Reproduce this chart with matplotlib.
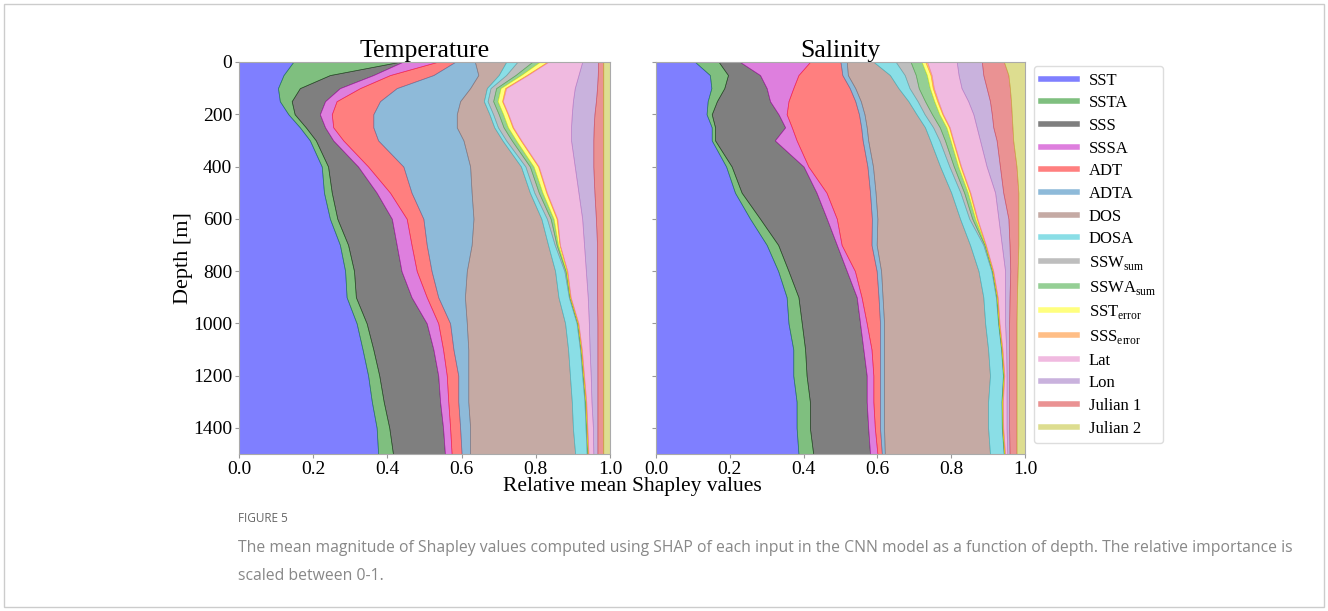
import numpy as np
import matplotlib
matplotlib.use("Agg")
import matplotlib.pyplot as plt
from matplotlib.lines import Line2D
from matplotlib.patches import Rectangle

plt.rcParams['font.family'] = ['Liberation Serif', 'DejaVu Serif']
plt.rcParams['mathtext.fontset'] = 'custom'
plt.rcParams['mathtext.rm'] = 'Liberation Serif'

# === data ===
depth = [0, 50, 100, 150, 200, 250, 300, 400, 500, 600, 700, 800, 900, 1000, 1100, 1200, 1300, 1400, 1500]

names = ['SST', 'SSTA', 'SSS', 'SSSA', 'ADT', 'ADTA', 'DOS', 'DOSA',
         r'SSW$_{\mathrm{sum}}$', r'SSWA$_{\mathrm{sum}}$', r'SST$_{\mathrm{error}}$',
         r'SSS$_{\mathrm{error}}$', 'Lat', 'Lon', 'Julian 1', 'Julian 2']

# Temperature model: relative mean |SHAP| per input
t_sst = [.146, .120, .105, .110, .133, .164, .191, .223, .229, .245, .272, .286, .290, .317, .333, .348, .358, .371, .375]
t_ssta = [.284, .125, .059, .032, .017, .016, .016, .017, .021, .020, .022, .024, .025, .027, .029, .030, .032, .034, .040]
t_sss = [.010, .117, .108, .090, .068, .052, .047, .081, .121, .147, .131, .128, .150, .162, .162, .159, .152, .145, .140]
t_sssa = [.093, .045, .054, .031, .032, .022, .027, .027, .036, .040, .040, .041, .041, .031, .026, .023, .022, .019, .018]
t_adt = [.049, .117, .099, .117, .112, .108, .094, .095, .058, .045, .041, .040, .031, .032, .028, .031, .027, .027, .027]
t_adta = [.054, .121, .198, .216, .225, .225, .230, .180, .162, .135, .121, .095, .072, .045, .040, .027, .027, .027, .023]
t_dos = [.084, .055, .045, .064, .088, .101, .105, .137, .157, .183, .206, .238, .252, .265, .269, .274, .279, .277, .283]
t_dosa = [.030, .020, .010, .010, .010, .010, .010, .012, .012, .015, .018, .025, .028, .031, .032, .033, .034, .034, .031]
t_ssw = [.040, .025, .015, .015, .015, .015, .015, .012, .012, .010, .005, .003, .002, .002, .002, .002, .002, .002, .002]
t_sswa = [.020, .015, .012, .012, .012, .012, .012, .010, .010, .008, .004, .002, .001, .001, .001, .001, .001, .001, .001]
t_sst_err = [.020, .015, .012, .012, .012, .012, .012, .012, .010, .008, .004, .002, .001, .001, .001, .001, .001, .001, .001]
t_sss_err = [.003, .003, .003, .002, .002, .002, .002, .002, .002, .002, .001, .001, .001, .001, .001, .001, .001, .001, .001]
t_lat = [.092, .137, .185, .189, .171, .156, .134, .097, .085, .067, .065, .050, .046, .028, .021, .018, .014, .015, .013]
t_lon = [.043, .052, .060, .062, .061, .061, .060, .050, .043, .037, .035, .030, .025, .023, .021, .018, .016, .012, .011]
t_jul1 = [.014, .015, .017, .020, .024, .026, .027, .027, .024, .020, .017, .017, .017, .016, .016, .016, .016, .016, .016]
t_jul2 = [.018, .018, .018, .018, .018, .018, .018, .018, .018, .018, .018, .018, .018, .018, .018, .018, .018, .018, .018]

# Salinity model
s_sst = [.106, .146, .150, .140, .137, .151, .151, .190, .214, .255, .300, .331, .354, .359, .372, .372, .381, .381, .386]
s_ssta = [.064, .049, .035, .025, .014, .009, .009, .015, .018, .027, .031, .028, .032, .036, .032, .036, .036, .036, .040]
s_sss = [.058, .087, .115, .144, .181, .190, .162, .195, .203, .181, .159, .158, .158, .158, .158, .163, .154, .158, .154]
s_sssa = [.189, .104, .072, .050, .022, .018, .059, .013, .027, .027, .013, .022, .013, .018, .022, .018, .018, .018, .020]
s_adt = [.083, .119, .153, .181, .196, .188, .179, .160, .118, .095, .081, .059, .046, .036, .023, .018, .018, .014, .012]
s_adta = [.017, .015, .015, .015, .015, .015, .015, .015, .015, .015, .014, .012, .011, .011, .011, .011, .011, .011, .008]
s_dos = [.073, .114, .117, .129, .141, .158, .168, .182, .205, .224, .253, .264, .273, .274, .282, .287, .282, .282, .285]
s_dosa = [.060, .040, .030, .025, .022, .022, .025, .025, .025, .025, .036, .035, .034, .035, .035, .035, .036, .037, .037]
s_ssw = [.040, .030, .025, .020, .020, .018, .015, .012, .010, .008, .003, .002, .002, .001, .001, .001, .001, .001, .001]
s_sswa = [.030, .030, .030, .025, .020, .018, .015, .012, .010, .008, .002, .001, .001, .001, .001, .001, .001, .001, .001]
s_sst_err = [.010, .010, .008, .008, .008, .007, .006, .006, .005, .004, .001, .001, .001, .001, .001, .001, .001, .001, .001]
s_sss_err = [.005, .003, .003, .003, .002, .002, .002, .002, .002, .002, .001, .001, .001, .001, .001, .001, .001, .001, .001]
s_lat = [.080, .073, .075, .081, .082, .073, .072, .069, .067, .057, .043, .032, .020, .015, .010, .006, .010, .009, .006]
s_lon = [.068, .067, .068, .059, .050, .045, .045, .036, .022, .027, .021, .014, .012, .011, .008, .007, .007, .007, .006]
s_jul1 = [.060, .068, .063, .057, .054, .052, .045, .045, .041, .027, .024, .020, .020, .020, .020, .020, .020, .020, .019]
s_jul2 = [.057, .045, .041, .038, .036, .034, .032, .023, .018, .018, .018, .020, .022, .023, .023, .023, .023, .023, .023]

colors = ['blue', 'green', 'black', 'm', 'red', 'tab:blue', 'tab:brown', 'tab:cyan',
          'tab:gray', 'tab:green', 'yellow', 'tab:orange', 'tab:pink', 'tab:purple',
          'tab:red', 'tab:olive']

temp = [t_sst, t_ssta, t_sss, t_sssa, t_adt, t_adta, t_dos, t_dosa, t_ssw, t_sswa,
        t_sst_err, t_sss_err, t_lat, t_lon, t_jul1, t_jul2]
sal = [s_sst, s_ssta, s_sss, s_sssa, s_adt, s_adta, s_dos, s_dosa, s_ssw, s_sswa,
       s_sst_err, s_sss_err, s_lat, s_lon, s_jul1, s_jul2]


def draw_panel(ax, series, title):
    vals = np.array(series, dtype=float)
    vals = vals / vals.sum(axis=0)          # relative importance, 0-1
    right = np.cumsum(vals, axis=0)
    left = np.vstack([np.zeros(len(depth)), right[:-1]])
    for i in range(len(vals)):
        ax.fill_betweenx(depth, left[i], right[i], color=colors[i], alpha=0.5, lw=0.5)
    ax.set_xlim(0, 1)
    ax.set_ylim(1500, 0)
    ax.set_xticks([0, 0.2, 0.4, 0.6, 0.8, 1.0])
    ax.set_yticks(range(0, 1500, 200))
    ax.set_title(title, fontsize=18.5, pad=2)
    ax.tick_params(labelsize=14, length=3, color='#999999', pad=2)
    for sp in ax.spines.values():
        sp.set_color('#aaaaaa')


fig = plt.figure(figsize=(13.28, 6.11), dpi=100)
ax1 = fig.add_axes([239 / 1328, 1 - 454 / 611, 371 / 1328, 392 / 611])
ax2 = fig.add_axes([656 / 1328, 1 - 454 / 611, 369 / 1328, 392 / 611])

draw_panel(ax1, temp, 'Temperature')
draw_panel(ax2, sal, 'Salinity')
ax2.set_yticklabels([])
ax1.set_ylabel('Depth [m]', fontsize=16, labelpad=0)
fig.text(632 / 1328, 1 - 487 / 611, 'Relative mean Shapley values', fontsize=15.5,
         ha='center', va='center')

handles = [Line2D([], [], color=c, alpha=0.5, lw=4) for c in colors]
ax2.legend(handles, names, loc='upper left', bbox_to_anchor=(1.024, 0.99),
           bbox_transform=ax2.transAxes,
           fontsize=12, frameon=True, edgecolor='#dddddd', framealpha=1,
           handlelength=2.2, handletextpad=0.7, labelspacing=0.4,
           borderpad=0.4, borderaxespad=0, fancybox=True)

# page frame and caption
fig.patches.append(Rectangle((4 / 1328, 4 / 611), 1320 / 1328, 603 / 611,
                             transform=fig.transFigure, fill=False,
                             edgecolor='#cccccc', lw=1))
fig.text(238 / 1328, 1 - 518 / 611, 'FIGURE 5', fontsize=8.5, color='#666666',
         family='Open Sans', va='center')
fig.text(238 / 1328, 1 - 548 / 611,
         'The mean magnitude of Shapley values computed using SHAP of each input in the '
         'CNN model as a function of depth. The relative importance is',
         fontsize=11.3, color='#888888', family='Open Sans', va='center')
fig.text(238 / 1328, 1 - 576 / 611, 'scaled between 0-1.', fontsize=11.3,
         color='#888888', family='Open Sans', va='center')

fig.savefig('out.png', dpi=100)
